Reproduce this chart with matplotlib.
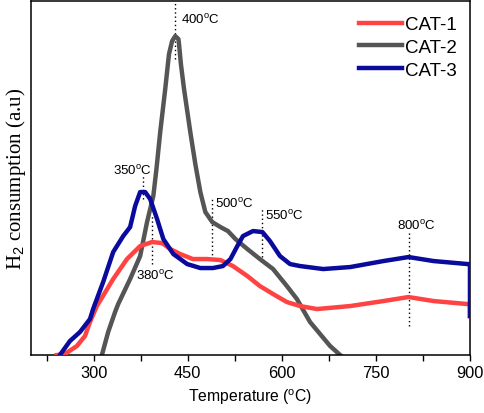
import matplotlib
matplotlib.use('Agg')
import matplotlib.pyplot as plt
from matplotlib.ticker import MultipleLocator, NullLocator

plt.rcParams['font.family'] = 'Liberation Sans'
plt.rcParams['mathtext.fontset'] = 'custom'
plt.rcParams['mathtext.rm'] = 'Liberation Sans'
plt.rcParams['mathtext.it'] = 'Liberation Sans:italic'

# temperature (C) and signal (a.u.)
cat1_t = [241, 254, 273, 286, 294, 305, 331, 353, 374, 393, 409, 422, 438, 458,
          481, 502, 522, 545, 565, 586, 608, 629, 656, 709, 762, 802, 842, 896, 900, 900]
cat1_y = [0, 1, 9, 19, 33, 49, 76, 96, 109, 113, 112, 106, 101, 96,
          96, 95, 89, 79, 69, 61, 53, 49, 46, 49, 54, 58, 54, 51, 51, 39]

cat2_t = [313, 323, 334, 339, 358, 374, 385, 395, 400, 406, 414, 420, 425, 430,
          435, 436, 439, 444, 454, 462, 470, 478, 489, 502, 514, 526, 545, 565,
          586, 608, 624, 645, 677, 693]
cat2_y = [0, 23, 43, 51, 76, 99, 133, 159, 186, 223, 266, 301, 314, 319,
          316, 311, 291, 266, 223, 191, 163, 143, 133, 128, 124, 116, 106, 96,
          86, 69, 56, 33, 9, 0]

cat3_t = [246, 262, 278, 294, 299, 315, 331, 347, 358, 366, 374, 382, 390, 401,
          411, 427, 449, 470, 490, 506, 518, 529, 538, 554, 569, 581, 597, 613,
          629, 666, 709, 762, 802, 842, 896, 900, 900]
cat3_y = [0, 14, 23, 36, 46, 73, 103, 119, 128, 149, 163, 163, 156, 136,
          116, 101, 91, 87, 87, 89, 96, 109, 119, 124, 123, 114, 99, 91,
          89, 86, 88, 94, 98, 94, 91, 91, 39]

labels = ['CAT-1', 'CAT-2', 'CAT-3']

# peak marks: label, line x, line y from/to, text x, text y, alignment
peaks = [
    ('400', 430, 353, 296, 439, 336, 'left'),
    ('350', 379, 181, 156, 361, 185, 'center'),
    ('380', 393, 139, 91, 399, 80, 'center'),
    ('500', 489, 156, 96, 494, 152, 'left'),
    ('550', 569, 148, 98, 573, 140, 'left'),
    ('800', 803, 123, 29, 814, 130, 'center'),
]

fig = plt.figure(figsize=(4.85, 4.14), dpi=100)
ax = fig.add_axes([0.064, 0.140, 0.905, 0.855])

for p in peaks:
    ax.vlines(p[1], p[3], p[2], colors='black', linestyles=(0, (1, 2)), lw=1, zorder=1)
    ax.text(p[4], p[5], p[0] + r'$^{\mathrm{o}}$C', ha=p[6], va='center', fontsize=9.5)

ax.plot(cat1_t, cat1_y, color='#ff4343', lw=3.2, label=labels[0], zorder=3, solid_joinstyle='round')
ax.plot(cat2_t, cat2_y, color='#555555', lw=3.2, label=labels[1], zorder=2, solid_joinstyle='round')
ax.plot(cat3_t, cat3_y, color='#0a0a9c', lw=3.2, label=labels[2], zorder=4, solid_joinstyle='round')

ax.set_xlim(200, 900)
ax.set_ylim(0, 354)
ax.xaxis.set_major_locator(MultipleLocator(150))
ax.xaxis.set_minor_locator(MultipleLocator(75))
ax.yaxis.set_major_locator(NullLocator())
ax.tick_params(axis='x', which='both', direction='out', length=4, width=1, labelsize=11.8)
for s in ax.spines.values():
    s.set_linewidth(1.1)

ax.set_xlabel('Temperature (' + r'$^{\mathrm{o}}$' + 'C)', fontsize=11.3)
ax.set_ylabel('H$_2$ consumption (a.u)', fontsize=15, family='Liberation Serif', labelpad=2)

ax.legend(loc='upper right', bbox_to_anchor=(1.0, 0.995), frameon=False, fontsize=13.5,
          handlelength=2.3, handletextpad=0.16, labelspacing=0.3, borderaxespad=0.3)

fig.savefig('out.png', dpi=100)
